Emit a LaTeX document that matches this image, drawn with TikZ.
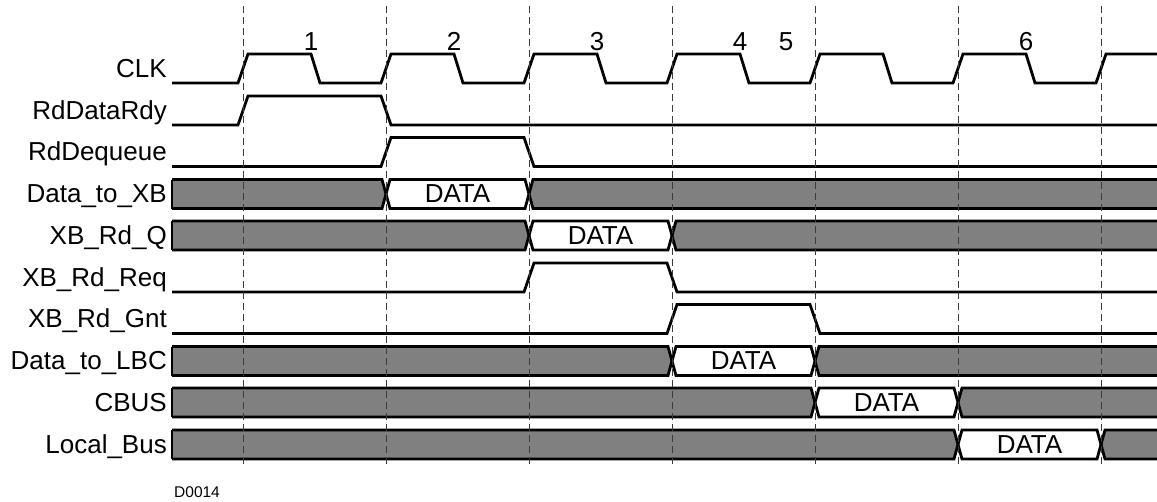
\documentclass[tikz,border=0pt]{standalone}
\usepackage{fontspec}
\setmainfont{Liberation Sans}
\definecolor{busgray}{HTML}{808080}
\definecolor{gridgray}{HTML}{3C3C3C}
\tikzset{
  wave/.style={line width=2.8pt, black},
  grid/.style={gridgray, line width=0.9pt, dash pattern=on 7pt off 4pt},
  sig/.style={anchor=base east, inner sep=0pt, font=\fontsize{26}{31}\selectfont},
  datalbl/.style={anchor=base, inner sep=0pt, font=\fontsize{26}{31}\selectfont},
  cyc/.style={anchor=base, inner sep=0pt, font=\fontsize{26}{31}\selectfont},
}
% bus row: #1 top edge, #2 start of DATA, #3 end of DATA
\newcommand\busrow[3]{%
  \fill[busgray] (172,#1) -- (#2-4,#1) -- (#2,#1+14.5) -- (#2-4,#1+29) -- (172,#1+29) -- cycle;
  \fill[busgray] (#3,#1+14.5) -- (#3+4,#1) -- (1157,#1) -- (1157,#1+29) -- (#3+4,#1+29) -- cycle;
  \draw[wave] (172,#1) -- (#2-4,#1) -- (#2+4,#1+29) -- (#3-4,#1+29) -- (#3+4,#1) -- (1157,#1);
  \draw[wave] (172,#1+29) -- (#2-4,#1+29) -- (#2+4,#1) -- (#3-4,#1) -- (#3+4,#1+29) -- (1157,#1+29);
  \draw[wave] (172,#1) -- (172,#1+29);
}

\begin{document}
\begin{tikzpicture}[x=1pt, y=-1pt]
  \useasboundingbox (0,0) rectangle (1157,501);

  % signal names
  \node[sig] (clk) at (167,77.4) {CLK};
  \node[sig] (rdy) at (167,119.2) {RdDataRdy};
  \node[sig] (deq) at (167,160.9) {RdDequeue};
  \node[sig] (dxb) at (167,202.7) {Data\_to\_XB};
  \node[sig] (rdq) at (167,244.4) {XB\_Rd\_Q};
  \node[sig] (req) at (167,286.4) {XB\_Rd\_Req};
  \node[sig] (gnt) at (167,327.9) {XB\_Rd\_Gnt};
  \node[sig] (dlbc) at (167,369.9) {Data\_to\_LBC};
  \node[sig] (cbus) at (167,411.4) {CBUS};
  \node[sig] (lbus) at (167,453.4) {Local\_Bus};

  % clock
  \draw[wave] (172,83) \foreach \k in {0,...,5} {
      -- (238+143*\k,83) -- (248+143*\k,54) -- (311+143*\k,54) -- (320+143*\k,83) }
    -- (1096,83) -- (1106,54) -- (1157,54);
  \foreach \k/\n in {0/1,1/2,2/3,3/4,5/6}
    \node[cyc] (cyc\n) at (311+143*\k,50) {\n};
  \node[cyc] (cyc5) at (786,50) {5};

  % control lines
  \draw[wave] (172,125) -- (238,125) -- (248,96) -- (381,96) -- (391,125) -- (1157,125);
  \draw[wave] (172,166.5) -- (381,166.5) -- (391,137.5) -- (524,137.5) -- (534,166.5) -- (1157,166.5);
  \draw[wave] (172,292) -- (524,292) -- (534,263) -- (667,263) -- (677,292) -- (1157,292);
  \draw[wave] (172,333.5) -- (667,333.5) -- (677,304.5) -- (810,304.5) -- (820,333.5) -- (1157,333.5);

  % buses
  \busrow{179.5}{386}{529}
  \busrow{221}{529}{672}
  \busrow{346.5}{672}{815}
  \busrow{388}{815}{958}
  \busrow{430}{958}{1101}
  \node[datalbl] (d1) at (457.5,202.7) {DATA};
  \node[datalbl] (d2) at (600.5,244.2) {DATA};
  \node[datalbl] (d3) at (743.5,369.7) {DATA};
  \node[datalbl] (d4) at (886.5,411.2) {DATA};
  \node[datalbl] (d5) at (1029.5,453.2) {DATA};

  % cycle boundaries
  \foreach \k in {0,...,6}
    \draw[grid] (243+143*\k,6) -- (243+143*\k,464);

  \node[anchor=base west, inner sep=0pt, font=\fontsize{15.5}{18}\selectfont] (fig) at (174,497) {D0014};
\end{tikzpicture}
\end{document}
